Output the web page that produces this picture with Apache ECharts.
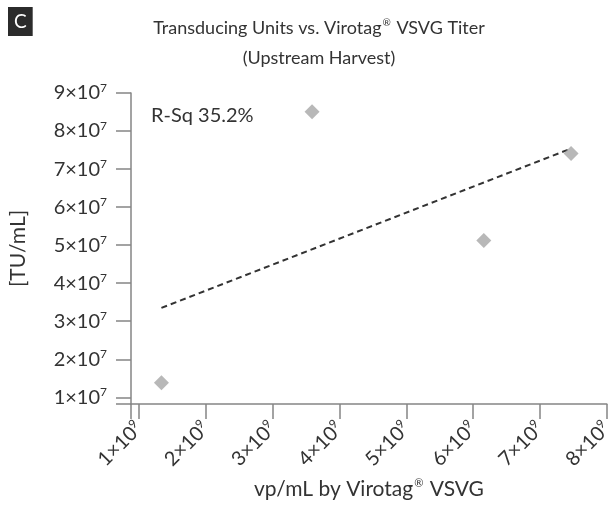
<!DOCTYPE html>
<html>
<head>
<meta charset="utf-8">
<script src="https://cdn.jsdelivr.net/npm/echarts@6/dist/echarts.min.js"></script>
<style>html,body{margin:0;padding:0;background:#fff}#c{width:616px;height:510px}</style>
</head>
<body>
<div id="c"></div>
<script>
// Data
const pointsX = [1.336e9, 3.59e9, 6.16e9, 7.465e9];   // vp/mL
const pointsY = [1.385e7, 8.51e7, 5.125e7, 7.41e7];   // TU/mL
const trendX = [1.336e9, 7.465e9];
const trendY = [3.35e7, 7.54e7];
const xTicks = [1e9, 2e9, 3e9, 4e9, 5e9, 6e9, 7e9, 8e9];
const yTicks = [1e7, 2e7, 3e7, 4e7, 5e7, 6e7, 7e7, 8e7, 9e7];
const xMin = 0.881e9, xMax = 8e9;
const yMin = 0.8235e7, yMax = 9e7;
const rSqText = 'R-Sq 35.2%';

const FONT = 'Lato, "Open Sans", sans-serif';
const chart = echarts.init(document.getElementById('c'), null, {renderer: 'canvas'});
const axisColor = '#858585';
const textColor = '#333333';

const supRich = (size, sup, raise) => ({
  b: {fontFamily: FONT, fontSize: size, color: textColor},
  s: {fontFamily: FONT, fontSize: sup, color: textColor, padding: [0, 0, raise, 0]}
});

chart.setOption({
  animation: false,
  textStyle: {fontFamily: FONT},
  title: [{
    text: '{b|Transducing Units vs. Virotag}{s|\u00AE}{b| VSVG Titer}\n{b|(Upstream Harvest)}',
    left: 314, top: 8, textAlign: 'center',
    textStyle: {fontFamily: FONT, fontSize: 18, fontWeight: 'normal', color: textColor, lineHeight: 30,
      rich: {
        b: {fontFamily: FONT, fontSize: 18, color: textColor, lineHeight: 30},
        s: {fontFamily: FONT, fontSize: 10, color: textColor, padding: [0, 1, 10, 1]}
      }}
  }, {
    text: 'C', left: 8, top: 7,
    backgroundColor: '#2b2b2b', padding: [5, 6, 5, 6],
    textStyle: {fontFamily: FONT, fontSize: 19, fontWeight: 'normal', color: '#fff', lineHeight: 19}
  }, {
    text: rSqText, left: 146, top: 101,
    textStyle: {fontFamily: FONT, fontSize: 20, fontWeight: 'normal', color: textColor}
  }],
  grid: {left: 128, right: 3, top: 93, bottom: 106, containLabel: false},
  xAxis: {
    type: 'value', min: xMin, max: xMax,
    name: '{b|vp/mL by Virotag}{s|\u00AE}{b| VSVG}', nameLocation: 'middle', nameGap: 74,
    nameTextStyle: {fontFamily: FONT, fontSize: 21, color: textColor,
      rich: {
        b: {fontFamily: FONT, fontSize: 21, color: textColor},
        s: {fontFamily: FONT, fontSize: 11, color: textColor, padding: [0, 1, 11, 1]}
      }},
    axisLine: {show: true, onZero: false, lineStyle: {color: axisColor, width: 1.5}},
    axisTick: {show: true, length: 15, customValues: [xMin].concat(xTicks), lineStyle: {color: axisColor, width: 1.5}},
    splitLine: {show: false},
    axisLabel: {
      customValues: xTicks, rotate: 45, margin: 21, color: textColor,
      formatter: v => '{b|' + Math.round(v / 1e9) + '\u00D710}{s|9}',
      rich: supRich(20, 12, 10)
    }
  },
  yAxis: {
    type: 'value', min: yMin, max: yMax,
    name: '[TU/mL]', nameLocation: 'middle', nameGap: 102, nameRotate: 90,
    nameTextStyle: {fontFamily: FONT, fontSize: 21, color: textColor},
    axisLine: {show: true, onZero: false, lineStyle: {color: axisColor, width: 1.5}},
    axisTick: {show: true, length: 15, customValues: [yMin].concat(yTicks), lineStyle: {color: axisColor, width: 1.5}},
    splitLine: {show: false},
    axisLabel: {
      customValues: yTicks, margin: 24, color: textColor,
      formatter: v => '{b|' + Math.round(v / 1e7) + '\u00D710}{s|7}',
      rich: supRich(20, 12, 10)
    }
  },
  series: [{
    type: 'line',
    data: trendX.map((x, i) => [x, trendY[i]]),
    symbol: 'none',
    lineStyle: {color: '#333', width: 2, type: [6, 4]},
    silent: true, z: 2
  }, {
    type: 'scatter',
    data: pointsX.map((x, i) => [x, pointsY[i]]),
    symbol: 'diamond', symbolSize: 15,
    itemStyle: {color: '#a6a6a6'},
    z: 3
  }]
});
</script>
</body>
</html>
